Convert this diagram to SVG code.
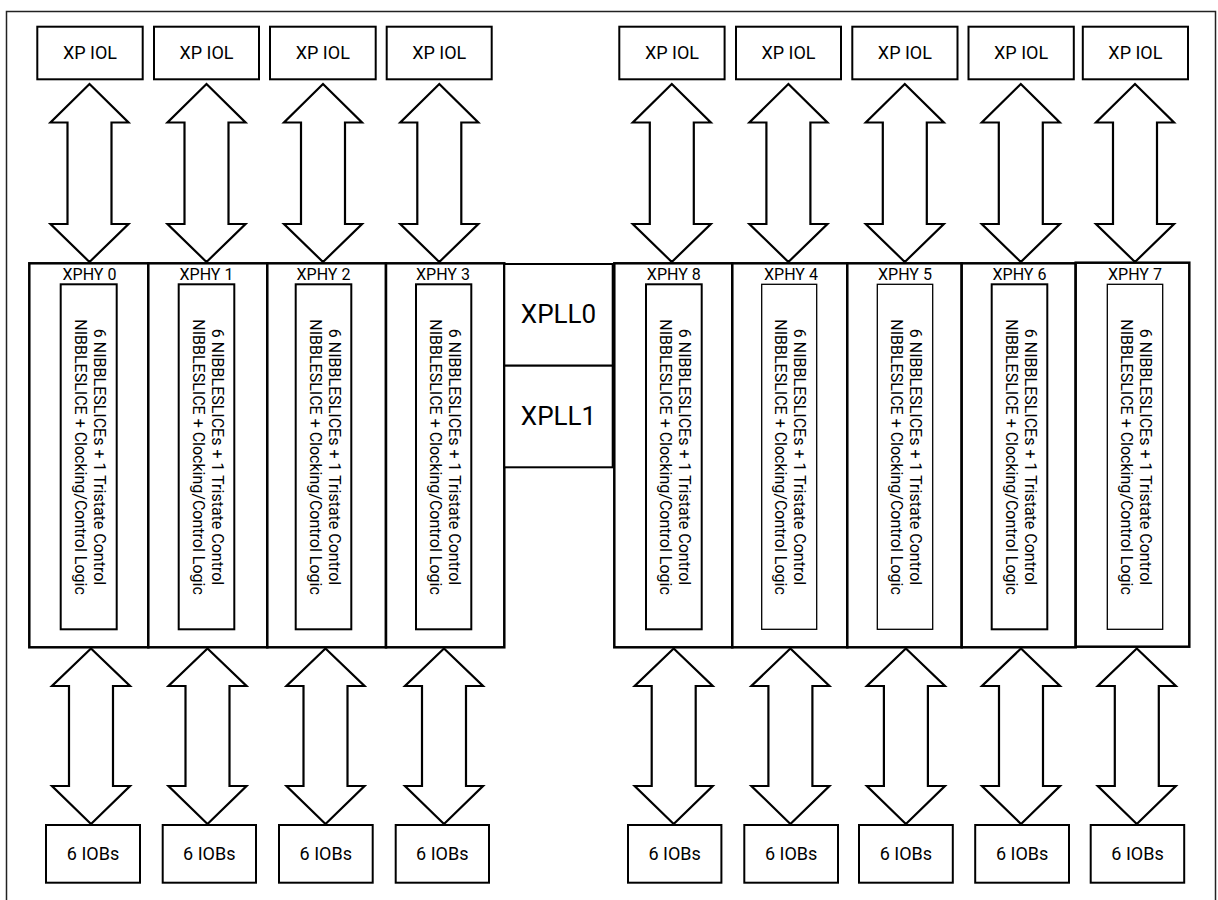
<svg xmlns="http://www.w3.org/2000/svg" xmlns:xlink="http://www.w3.org/1999/xlink" width="1218" height="900" viewBox="0 0 1218 900">
<style>
.bg{fill:#fff}
.frame{fill:none;stroke:#222;stroke-width:1.5}
.box{fill:#fff;stroke:#000;stroke-width:2}
.phy{fill:#fff;stroke:#000;stroke-width:2.5}
.in{fill:#fff;stroke:#000;stroke-width:2}
.in2{fill:#fff;stroke:#000;stroke-width:1.3}
.arr{fill:#fff;stroke:#000;stroke-width:2.2;stroke-linejoin:miter}
text{font-family:Roboto,"Liberation Sans",Arial,sans-serif;fill:#000}
.t18{font-size:18px;text-anchor:middle}
.t16{font-size:16px;text-anchor:middle}
.t26{font-size:26px;text-anchor:middle}
</style>
<defs>
<path id="arrT" d="M0,84 L39,122.5 L22,122.5 L22,224 L39,224 L0,262 L-39,224 L-22,224 L-22,122.5 L-39,122.5 Z"/>
<path id="arrB" d="M0,648.5 L39,686 L22,686 L22,786 L39,786 L0,824 L-39,786 L-22,786 L-22,686 L-39,686 Z"/>
<g id="vtext">
<text class="t16" x="0" y="-5">6 NIBBLESLICEs + 1 Tristate Control</text>
<text class="t16" x="0" y="14">NIBBLESLICE + Clocking/Control Logic</text>
</g>
</defs>
<rect class="bg" x="0" y="0" width="1218" height="900"/>
<rect class="frame" x="6.5" y="11.5" width="1209" height="895"/>

<g id="connectors">
<use xlink:href="#arrT" x="89.5" class="arr"/>
<use xlink:href="#arrT" x="206.5" class="arr"/>
<use xlink:href="#arrT" x="323" class="arr"/>
<use xlink:href="#arrT" x="439.3" class="arr"/>
<use xlink:href="#arrT" x="671.8" class="arr"/>
<use xlink:href="#arrT" x="788.4" class="arr"/>
<use xlink:href="#arrT" x="904.8" class="arr"/>
<use xlink:href="#arrT" x="1020.8" class="arr"/>
<use xlink:href="#arrT" x="1135" class="arr"/>
<use xlink:href="#arrB" x="91" class="arr"/>
<use xlink:href="#arrB" x="207.5" class="arr"/>
<use xlink:href="#arrB" x="325.5" class="arr"/>
<use xlink:href="#arrB" x="444" class="arr"/>
<use xlink:href="#arrB" x="673.7" class="arr"/>
<use xlink:href="#arrB" x="790.4" class="arr"/>
<use xlink:href="#arrB" x="905.9" class="arr"/>
<use xlink:href="#arrB" x="1021" class="arr"/>
<use xlink:href="#arrB" x="1136.8" class="arr"/>
</g>

<g id="iol0"><rect class="box" x="37.3" y="26.7" width="105.4" height="52.6"/><text class="t18" x="90" y="59.4">XP IOL</text></g>
<g id="iol1"><rect class="box" x="154" y="26.7" width="105" height="52.6"/><text class="t18" x="206.5" y="59.4">XP IOL</text></g>
<g id="iol2"><rect class="box" x="270" y="26.7" width="105.7" height="52.6"/><text class="t18" x="322.8" y="59.4">XP IOL</text></g>
<g id="iol3"><rect class="box" x="386.7" y="26.7" width="105" height="52.6"/><text class="t18" x="439.2" y="59.4">XP IOL</text></g>
<g id="iol8"><rect class="box" x="619.3" y="26.7" width="105.3" height="52.6"/><text class="t18" x="672" y="59.4">XP IOL</text></g>
<g id="iol4"><rect class="box" x="736" y="26.7" width="105" height="52.6"/><text class="t18" x="788.5" y="59.4">XP IOL</text></g>
<g id="iol5"><rect class="box" x="852.3" y="26.7" width="105.2" height="52.6"/><text class="t18" x="904.9" y="59.4">XP IOL</text></g>
<g id="iol6"><rect class="box" x="968.5" y="26.7" width="105.3" height="52.6"/><text class="t18" x="1021.1" y="59.4">XP IOL</text></g>
<g id="iol7"><rect class="box" x="1082.8" y="26.7" width="105.2" height="52.6"/><text class="t18" x="1135.4" y="59.4">XP IOL</text></g>

<g id="xphy0"><rect class="phy" x="29.3" y="263.3" width="119" height="384"/><text class="t16" x="89.5" y="280">XPHY 0</text><rect class="in" x="60.7" y="284.3" width="56" height="345"/><use xlink:href="#vtext" transform="translate(88.7,457) rotate(90)"/></g>
<g id="xphy1"><rect class="phy" x="148.3" y="263.3" width="119" height="384"/><text class="t16" x="206.5" y="280">XPHY 1</text><rect class="in" x="178.7" y="284.3" width="55.6" height="345"/><use xlink:href="#vtext" transform="translate(206.5,457) rotate(90)"/></g>
<g id="xphy2"><rect class="phy" x="267.3" y="263.3" width="118.7" height="384"/><text class="t16" x="323.5" y="280">XPHY 2</text><rect class="in" x="295.7" y="284.3" width="55.6" height="345"/><use xlink:href="#vtext" transform="translate(323.5,457) rotate(90)"/></g>
<g id="xphy3"><rect class="phy" x="386" y="263.3" width="118.3" height="384"/><text class="t16" x="443" y="280">XPHY 3</text><rect class="in" x="416" y="284.3" width="55.3" height="345"/><use xlink:href="#vtext" transform="translate(443.7,457) rotate(90)"/></g>
<g id="xpll0"><rect class="box" x="504.3" y="264" width="108.4" height="101.7"/><text class="t26" x="558.5" y="323.3">XPLL0</text></g>
<g id="xpll1"><rect class="box" x="504.3" y="365.7" width="108.4" height="101.6"/><text class="t26" x="558.5" y="425">XPLL1</text></g>
<g id="xphy8"><rect class="phy" x="614.3" y="263.3" width="118" height="384"/><text class="t16" x="673.8" y="280">XPHY 8</text><rect class="in" x="646" y="284.3" width="55.7" height="345"/><use xlink:href="#vtext" transform="translate(673.8,457) rotate(90)"/></g>
<g id="xphy4"><rect class="phy" x="732.3" y="263.3" width="115" height="384"/><text class="t16" x="791" y="280">XPHY 4</text><rect class="in2" x="761.7" y="284.3" width="55" height="345"/><use xlink:href="#vtext" transform="translate(789.2,457) rotate(90)"/></g>
<g id="xphy5"><rect class="phy" x="847.3" y="263.3" width="114.4" height="384"/><text class="t16" x="905" y="280">XPHY 5</text><rect class="in2" x="877.3" y="284.3" width="55.4" height="345"/><use xlink:href="#vtext" transform="translate(905,457) rotate(90)"/></g>
<g id="xphy6"><rect class="phy" x="961.7" y="263.3" width="114" height="384"/><text class="t16" x="1019.5" y="280">XPHY 6</text><rect class="in" x="991.7" y="284.3" width="55.6" height="345"/><use xlink:href="#vtext" transform="translate(1019.5,457) rotate(90)"/></g>
<g id="xphy7"><rect class="phy" x="1075.7" y="262.7" width="113.6" height="384"/><text class="t16" x="1135" y="280">XPHY 7</text><rect class="in2" x="1107.3" y="284.3" width="55.4" height="345"/><use xlink:href="#vtext" transform="translate(1135,457) rotate(90)"/></g>

<g id="iob0"><rect class="box" x="46" y="825" width="94" height="57.7"/><text class="t18" x="93" y="860">6 IOBs</text></g>
<g id="iob1"><rect class="box" x="162.7" y="825" width="93.3" height="57.7"/><text class="t18" x="209.3" y="860">6 IOBs</text></g>
<g id="iob2"><rect class="box" x="279" y="825" width="93.7" height="57.7"/><text class="t18" x="325.8" y="860">6 IOBs</text></g>
<g id="iob3"><rect class="box" x="395.7" y="825" width="93.3" height="57.7"/><text class="t18" x="442.3" y="860">6 IOBs</text></g>
<g id="iob8"><rect class="box" x="628" y="825" width="93.4" height="57.7"/><text class="t18" x="674.7" y="860">6 IOBs</text></g>
<g id="iob4"><rect class="box" x="744.3" y="825" width="93.7" height="57.7"/><text class="t18" x="791.2" y="860">6 IOBs</text></g>
<g id="iob5"><rect class="box" x="859" y="825" width="93.8" height="57.7"/><text class="t18" x="905.9" y="860">6 IOBs</text></g>
<g id="iob6"><rect class="box" x="975.2" y="825" width="93.8" height="57.7"/><text class="t18" x="1022.1" y="860">6 IOBs</text></g>
<g id="iob7"><rect class="box" x="1090.7" y="825" width="93.5" height="57.7"/><text class="t18" x="1137.5" y="860">6 IOBs</text></g>
</svg>
